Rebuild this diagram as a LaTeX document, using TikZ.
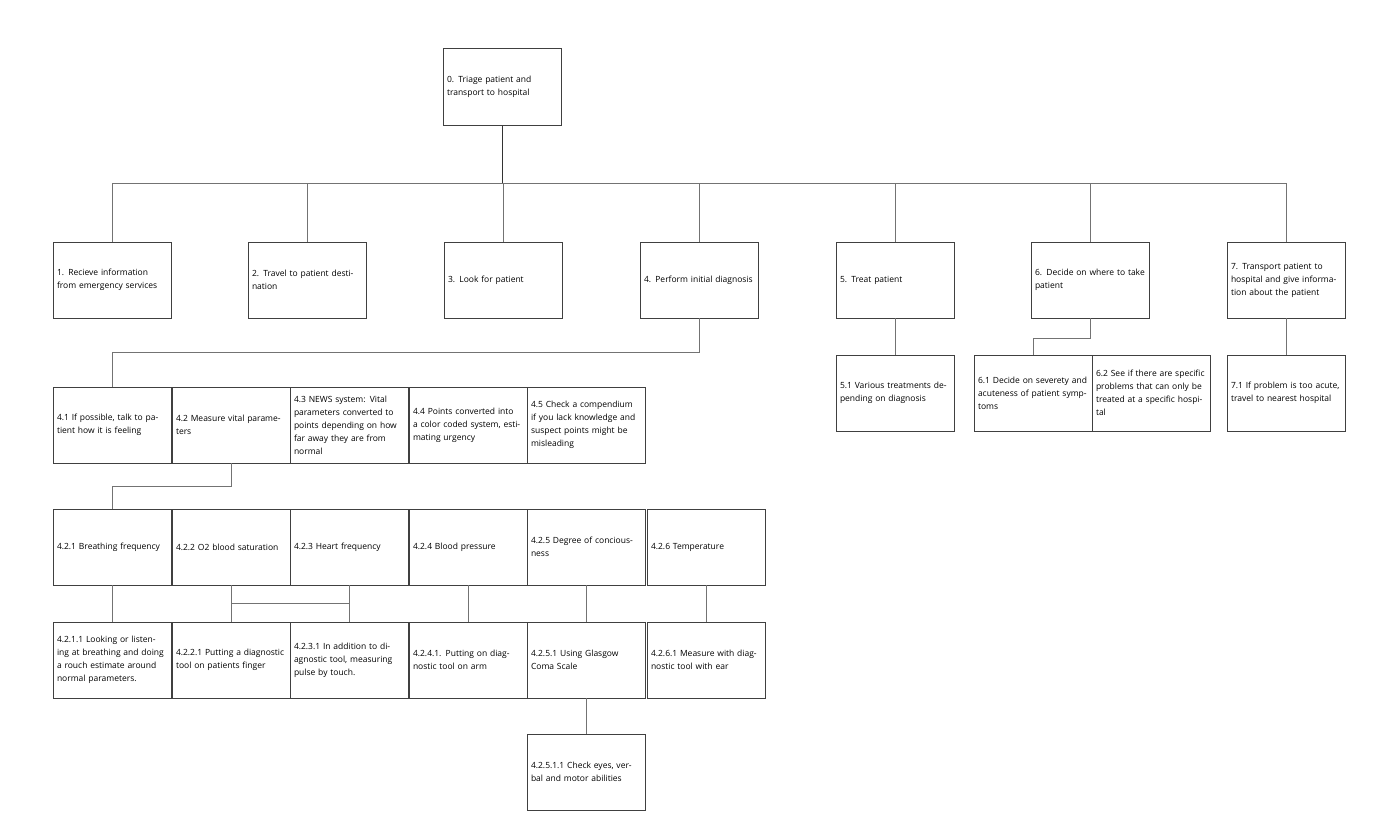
\documentclass[tikz,border=0pt]{standalone}
\usepackage{fontspec}
\setmainfont{Open Sans}
\usepackage{tikz}
\usetikzlibrary{calc}

\begin{document}
\begin{tikzpicture}[x=1pt,y=-1pt,
    box/.style={draw=black!75, line width=0.8pt, minimum width=118pt, minimum height=76pt,
      text width=110pt, align=left, inner sep=4pt, font=\fontsize{8.5}{13}\selectfont},
    link/.style={draw=black!55, line width=0.8pt}]
  \useasboundingbox (0,0) rectangle (1400,822);
  % root and first level
  \node [box, minimum height=77pt] (t0) at (502,87) {0. Triage patient and transport to hospital};
  \node [box] (t1) at (112,280) {1. Recieve information from emergency services};
  \node [box] (t2) at (307,280) {2. Travel to patient destination};
  \node [box] (t3) at (503,280) {3. Look for patient};
  \node [box] (t4) at (699,280) {4. Perform initial diagnosis};
  \node [box] (t5) at (895,280) {5. Treat patient};
  \node [box] (t6) at (1090,280) {6. Decide on where to take patient};
  \node [box] (t7) at (1286,280) {7. Transport patient to hospital and give information about the patient};
  \coordinate (bus) at (502,183);
  \draw [black!80, line width=1pt] (t0.south) -- (bus);
  \foreach \n in {t1,t2,t3,t4,t5,t6,t7}
    \draw [link] (\n.north) |- (bus);
  % second level
  \node [box] (t41) at (112,425) {4.1 If possible, talk to patient how it is feeling};
  \node [box] (t42) at (231,425) {4.2 Measure vital parameters};
  \node [box] (t43) at (349,425) {4.3 NEWS system: Vital parameters converted to points depending on how far away they are from normal};
  \node [box] (t44) at (468,425) {4.4 Points converted into a color coded system, estimating urgency};
  \node [box] (t45) at (586,425) {4.5 Check a compendium if you lack knowledge and suspect points might be misleading};
  \node [box] (t51) at (895,393) {5.1 Various treatments depending on diagnosis};
  \node [box] (t61) at (1033,393) {6.1 Decide on severety and acuteness of patient symptoms};
  \node [box] (t62) at (1151,393) {6.2 See if there are specific problems that can only be treated at a specific hospital};
  \node [box] (t71) at (1286,393) {7.1 If problem is too acute, travel to nearest hospital};
  \draw [link] (t4.south) -- ++(0,34) -| (t41.north);
  \draw [link] (t5.south) -- (t51.north);
  \draw [link] (t6.south) -- ++(0,20) -| (t61.north);
  \draw [link] (t7.south) -- (t71.north);
  % vital parameters
  \node [box] (p1) at (112,547) {4.2.1 Breathing frequency};
  \node [box] (p2) at (231,547) {4.2.2 O2 blood saturation};
  \node [box] (p3) at (349,547) {4.2.3 Heart frequency};
  \node [box] (p4) at (468,547) {4.2.4 Blood pressure};
  \node [box] (p5) at (586,547) {4.2.5 Degree of conciousness};
  \node [box] (p6) at (706,547) {4.2.6 Temperature};
  \draw [link] (t42.south) -- ++(0,23) -| (p1.north);
  \node [box] (q1) at (112,660) {4.2.1.1 Looking or listening at breathing and doing a rouch estimate around normal parameters.};
  \node [box] (q2) at (231,660) {4.2.2.1 Putting a diagnostic tool on patients finger};
  \node [box] (q3) at (349,660) {4.2.3.1 In addition to diagnostic tool, measuring pulse by touch.};
  \node [box] (q4) at (468,660) {4.2.4.1. Putting on diagnostic tool on arm};
  \node [box] (q5) at (586,660) {4.2.5.1 Using Glasgow Coma Scale};
  \node [box] (q6) at (706,660) {4.2.6.1 Measure with diagnostic tool with ear};
  \node [box] (r5) at (586,772) {4.2.5.1.1 Check eyes, verbal and motor abilities};
  \foreach \a/\b in {p1/q1,p2/q2,p3/q3,p4/q4,p5/q5,p6/q6,q5/r5}
    \draw [link] (\a.south) -- (\b.north);
  \draw [link] ($(p2.south)+(0,18)$) -- ($(p3.south)+(0,18)$);
\end{tikzpicture}
\end{document}
